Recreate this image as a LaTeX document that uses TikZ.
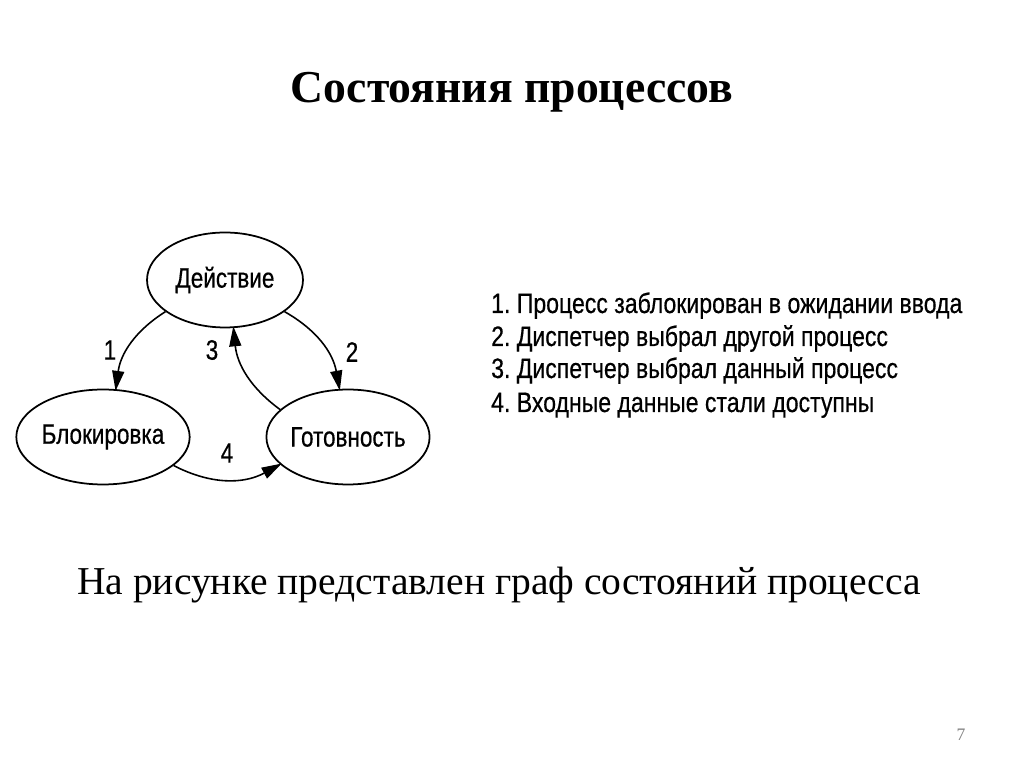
\documentclass[tikz,border=0pt]{standalone}
\usepackage{fontspec}
\setmainfont{Liberation Serif}
\newfontfamily\diagfont[FakeStretch=0.8,FakeBold=0.5]{Liberation Sans}
\newfontfamily\listfont[FakeStretch=0.82,FakeBold=0.5]{Liberation Sans}
\usetikzlibrary{arrows.meta,shapes.geometric}
\frenchspacing

\tikzset{
  state/.style={draw, ellipse, line width=1pt, minimum width=3.12cm, minimum height=1.9cm,
    inner sep=0pt, font=\diagfont\fontsize{16}{18}\selectfont},
  trans/.style={line width=0.9pt, -{Triangle[length=4mm,width=2.4mm]}, shorten >=-1pt},
  num/.style={font=\diagfont\fontsize{16}{18}\selectfont},
  item/.style={anchor=base west, font=\listfont\fontsize{16}{18}\selectfont}
}

\begin{document}
\begin{tikzpicture}[x=0.02cm,y=0.02cm]
  \useasboundingbox[fill=white] (0,0) rectangle (1024,767);

  \node[anchor=base, font=\bfseries\fontsize{26}{30}\selectfont] (title) at (512,664) {Состояния процессов};

  \node[state] (deis) at (225,487) {Действие};
  \node[state] (blok) at (103,330) {Блокировка};
  \node[state] (got) at (348,330) {Готовность};

  \draw[trans] (deis.208) to[bend right=25] (blok.75);
  \draw[trans] (deis.332) to[bend left=25] (got.100);
  \draw[trans] (got.158) to[bend left=24] (deis.280);
  \draw[trans] (blok.338) to[bend right=28] (got.202);

  \node[num] (n1) at (110,417) {1};
  \node[num] (n2) at (352,415) {2};
  \node[num] (n3) at (212,417) {3};
  \node[num] (n4) at (227,314) {4};

  \node[item] (it1) at (485,454) {1. Процесс заблокирован в ожидании ввода};
  \node[item] (it2) at (485,421) {2. Диспетчер выбрал другой процесс};
  \node[item] (it3) at (485,389) {3. Диспетчер выбрал данный процесс};
  \node[item] (it4) at (485,355) {4. Входные данные стали доступны};

  \node[anchor=base west, font=\fontsize{22.5}{27}\selectfont] (caption) at (71,172) {На рисунке представлен граф состояний процесса};

  \node[text=gray, font=\fontsize{10}{12}\selectfont] (page) at (961,32) {7};
\end{tikzpicture}
\end{document}
